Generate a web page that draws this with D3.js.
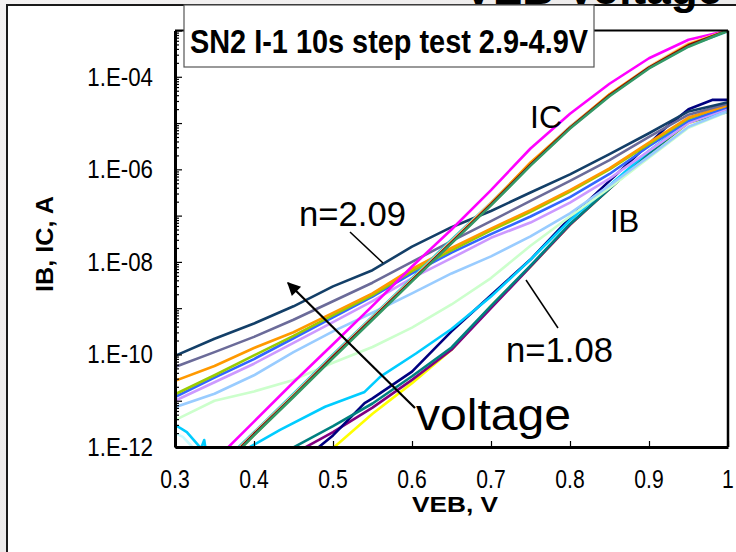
<!DOCTYPE html>
<html><head><meta charset="utf-8">
<script src="https://cdn.jsdelivr.net/npm/d3@7"></script>
<style>
body{margin:0;background:#fff}
svg{display:block}
text{font-family:"Liberation Sans",Arial,sans-serif;fill:#000}
</style>
</head><body>
<svg id="c" width="736" height="552"></svg>
<script>
// ---------------- data (VEB in V, currents as log10(A)) ----------------
const vGrid = [0.30,0.35,0.40,0.45,0.50,0.55,0.60,0.65,0.70,0.75,0.80,0.85,0.90,0.95,1.00];

// IB, upper family (read on vGrid)
const ibNavyTop   = [-10.03,-9.66,-9.33,-8.96,-8.53,-8.18,-7.67,-7.25,-6.90,-6.50,-6.11,-5.67,-5.22,-4.75,-4.55];
const ibSlate     = [-10.27,-9.95,-9.62,-9.25,-8.85,-8.45,-8.00,-7.55,-7.12,-6.68,-6.25,-5.80,-5.30,-4.82,-4.58];
const ibOrange    = [-10.57,-10.25,-9.86,-9.52,-9.10,-8.68,-8.15,-7.70,-7.28,-6.88,-6.45,-5.98,-5.42,-4.88,-4.62];
const ibLime      = [-10.86,-10.45,-10.02,-9.60,-9.15,-8.72,-8.20,-7.75,-7.32,-6.92,-6.48,-6.00,-5.45,-4.90,-4.60];
const ibBlue      = [-10.92,-10.50,-10.10,-9.65,-9.20,-8.75,-8.25,-7.80,-7.40,-7.02,-6.60,-6.10,-5.50,-4.95,-4.65];
const ibLavender  = [-11.00,-10.60,-10.20,-9.75,-9.30,-8.85,-8.35,-7.92,-7.48,-7.15,-6.72,-6.20,-5.60,-5.00,-4.68];
const ibLightBlue = [-11.14,-10.85,-10.45,-9.95,-9.50,-9.10,-8.68,-8.25,-7.88,-7.45,-6.95,-6.35,-5.72,-5.08,-4.74];
const ibPaleGreen = [-11.42,-11.00,-10.80,-10.55,-10.18,-9.84,-9.42,-8.92,-8.35,-7.65,-7.02,-6.40,-5.75,-5.10,-4.75];

// IB, lower family (own voltage points)
const skyV   = [0.30,0.315,0.333,0.337,0.341,0.36,0.38,0.395,0.433,0.49,0.54,0.56,0.605,0.65,0.70,0.75,0.80,0.85,0.90,0.95,1.00];
const skyI   = [-11.52,-11.68,-12.03,-11.85,-12.3,-12.4,-12.4,-12.0,-11.63,-11.13,-10.81,-10.48,-9.98,-9.45,-8.75,-7.95,-7.10,-6.35,-5.60,-4.96,-4.74];
const cyanV  = [0.30,0.31,0.322,0.33];
const cyanI  = [-11.70,-11.78,-12.0,-12.4];
const tealV  = [0.44,0.50,0.55,0.60,0.65,0.70,0.75,0.80,0.85,0.90,0.95,1.00];
const tealI  = [-12.1,-11.55,-11.06,-10.47,-9.85,-8.95,-8.08,-7.18,-6.42,-5.66,-4.98,-4.76];
const purpV  = [0.455,0.50,0.55,0.60,0.65,0.70,0.75,0.80,0.85,0.90,0.95,1.00];
const purpI  = [-12.1,-11.68,-11.15,-10.55,-9.90,-9.00,-8.10,-7.20,-6.42,-5.64,-4.97,-4.72];
const navyV  = [0.475,0.50,0.54,0.55,0.60,0.65,0.70,0.75,0.80,0.85,0.90,0.92,0.95,0.98,1.00];
const navyI  = [-12.1,-11.75,-11.05,-10.95,-10.37,-9.50,-8.72,-7.95,-7.05,-6.25,-5.45,-5.12,-4.70,-4.50,-4.50];
const yellV  = [0.495,0.55,0.60,0.65,0.70,0.75,0.80,0.85,0.90,0.95,1.00];
const yellI  = [-12.1,-11.28,-10.62,-9.90,-8.95,-8.10,-7.20,-6.42,-5.66,-5.00,-4.75];

// IC family (read on vGrid)
const icMagenta = [-13.2,-12.3,-11.45,-10.60,-9.78,-8.95,-8.10,-7.30,-6.45,-5.55,-4.80,-4.15,-3.60,-3.20,-3.00];
const icCyan    = [-13.3,-12.5,-11.68,-10.85,-10.00,-9.18,-8.35,-7.52,-6.72,-5.88,-5.08,-4.40,-3.80,-3.33,-3.02];
const icTan     = [-13.4,-12.55,-11.70,-10.88,-10.03,-9.20,-8.38,-7.55,-6.72,-5.88,-5.08,-4.38,-3.78,-3.28,-3.00];
const icOrange  = [-13.45,-12.6,-11.74,-10.90,-10.06,-9.23,-8.40,-7.58,-6.74,-5.85,-5.10,-4.38,-3.80,-3.30,-3.00];
const icDarkRed = [-13.45,-12.58,-11.72,-10.90,-10.05,-9.22,-8.40,-7.58,-6.76,-5.90,-5.10,-4.40,-3.80,-3.32,-3.00];
const icGreen   = [-13.5,-12.6,-11.75,-10.92,-10.08,-9.25,-8.42,-7.60,-6.78,-5.92,-5.12,-4.42,-3.82,-3.35,-3.00];

const xTickValues = [0.3,0.4,0.5,0.6,0.7,0.8,0.9,1.0];
const xTickLabels = ["0.3","0.4","0.5","0.6","0.7","0.8","0.9","1"];
const yTickValues = [1e-12,1e-10,1e-8,1e-6,1e-4];
const yTickLabels = ["1.E-12","1.E-10","1.E-08","1.E-06","1.E-04"];

// ---------------- drawing ----------------
const svg = d3.select("#c");
const W = 736, H = 552;
const L = 175, R = 728, T = 30.5, B = 447;

// slide background
const defs = svg.append("defs");
const grad = defs.append("linearGradient").attr("id","bg")
  .attr("x1","0").attr("y1","0").attr("x2","1").attr("y2","1");
grad.append("stop").attr("offset","0").attr("stop-color","#f4f2f2");
grad.append("stop").attr("offset","1").attr("stop-color","#e6e4e4");
svg.append("rect").attr("width",W).attr("height",H).attr("fill","url(#bg)");
svg.append("rect").attr("x",7).attr("y",5).attr("width",W).attr("height",H)
  .attr("fill","#fff").attr("stroke","#1a1a1a").attr("stroke-width",2);

// slide title (cut by the top edge, as in the reference)
svg.append("text").attr("x",722).attr("y",4).attr("text-anchor","end")
  .attr("font-size",44).attr("font-weight","bold").text("VEB Voltage");

const x = d3.scaleLinear().domain([0.3,1.0]).range([L,R]);
const y = d3.scaleLog().domain([1e-12,1e-3]).range([B,T]);

defs.append("clipPath").attr("id","clip")
  .append("rect").attr("x",L).attr("y",T).attr("width",R-L).attr("height",B-T);

const line = d3.line().x(d=>x(d[0])).y(d=>y(Math.pow(10,d[1])));
const plot = svg.append("g").attr("clip-path","url(#clip)");

function series(vs, is, color){
  plot.append("path").datum(d3.zip(vs,is)).attr("d",line)
    .attr("fill","none").attr("stroke",color).attr("stroke-width",2.6)
    .attr("stroke-linejoin","round").attr("stroke-linecap","round");
}
// lower IB family
series(cyanV, cyanI, "#c8fbff");
series(yellV, yellI, "#ffff00");
series(purpV, purpI, "#800080");
series(navyV, navyI, "#000080");
series(tealV, tealI, "#008080");
series(skyV, skyI, "#00ccff");
// upper IB family
series(vGrid, ibPaleGreen, "#ccffcc");
series(vGrid, ibLightBlue, "#99ccff");
series(vGrid, ibLavender, "#cc99ff");
series(vGrid, ibBlue, "#3366ff");
series(vGrid, ibLime, "#99cc00");
series(vGrid, ibOrange, "#ff9900");
series(vGrid, ibSlate, "#6b6b99");
series(vGrid, ibNavyTop, "#133f68");
// IC family
series(vGrid, icMagenta, "#ff00ff");
series(vGrid, icCyan, "#33cccc");
series(vGrid, icTan, "#ffcc99");
series(vGrid, icOrange, "#ff9900");
series(vGrid, icDarkRed, "#800000");
series(vGrid, icGreen, "#339966");

// frame
svg.append("line").attr("x1",L).attr("x2",R).attr("y1",T).attr("y2",T).attr("stroke","#000").attr("stroke-width",2);
svg.append("line").attr("x1",R).attr("x2",R).attr("y1",T).attr("y2",B).attr("stroke","#000").attr("stroke-width",2.5);

// axes (ticks point inward)
const decades = d3.range(-12,-2).map(e=>Math.pow(10,e));
const minors = [];
d3.range(-12,-3).forEach(e=>{ for(let k=2;k<=9;k++) minors.push(k*Math.pow(10,e)); });
const yMaj = svg.append("g").attr("transform",`translate(${L},0)`)
  .call(d3.axisLeft(y).tickValues(decades).tickSizeInner(-7).tickSizeOuter(0).tickFormat(""));
const yMin = svg.append("g").attr("transform",`translate(${L},0)`)
  .call(d3.axisLeft(y).tickValues(minors).tickSizeInner(-4).tickSizeOuter(0).tickFormat(""));
yMin.select(".domain").remove();
const xAx = svg.append("g").attr("transform",`translate(0,${B})`)
  .call(d3.axisBottom(x).tickValues(xTickValues).tickSizeInner(-6).tickSizeOuter(0).tickFormat(""));
[yMaj,yMin,xAx].forEach(g=>{
  g.selectAll(".tick line").attr("stroke","#000").attr("stroke-width",1.2);
});
yMaj.select(".domain").attr("stroke","#000").attr("stroke-width",3);
xAx.select(".domain").attr("stroke","#000").attr("stroke-width",3);

// tick labels (slightly tall, narrow face as in the slide)
yTickValues.forEach((v,i)=>{
  svg.append("text").attr("transform",`translate(153,${y(v)+9}) scale(0.97,1.14)`)
    .attr("text-anchor","end").attr("font-size",23).text(yTickLabels[i]);
});
xTickValues.forEach((v,i)=>{
  svg.append("text").attr("transform",`translate(${x(v)},488) scale(0.92,1.14)`)
    .attr("text-anchor","middle").attr("font-size",23).text(xTickLabels[i]);
});

// axis titles
svg.append("text").attr("transform","translate(455,512) scale(1,1.08)")
  .attr("text-anchor","middle").attr("font-size",20).attr("font-weight","bold")
  .attr("textLength",86).attr("lengthAdjust","spacingAndGlyphs").text("VEB, V");
svg.append("text").attr("transform","translate(53,244) rotate(-90) scale(1,1.1)")
  .attr("text-anchor","middle").attr("font-size",21).attr("font-weight","bold")
  .attr("textLength",96).attr("lengthAdjust","spacingAndGlyphs").text("IB, IC, A");

// chart title box
svg.append("rect").attr("x",184).attr("y",5).attr("width",410).attr("height",62)
  .attr("fill","#fff").attr("stroke","#555").attr("stroke-width",1.2);
svg.append("text").attr("transform","translate(190,53) scale(1,1.1)").attr("font-size",30).attr("font-weight","bold")
  .attr("textLength",398).attr("lengthAdjust","spacingAndGlyphs").text("SN2 I-1 10s step test 2.9-4.9V");

// annotations
svg.append("text").attr("x",530).attr("y",128).attr("font-size",32).text("IC");
svg.append("text").attr("x",610).attr("y",232).attr("font-size",31).text("IB");
svg.append("text").attr("x",299).attr("y",226).attr("font-size",35)
  .attr("textLength",107).attr("lengthAdjust","spacingAndGlyphs").text("n=2.09");
svg.append("text").attr("x",506).attr("y",362).attr("font-size",35)
  .attr("textLength",107).attr("lengthAdjust","spacingAndGlyphs").text("n=1.08");
svg.append("text").attr("x",416).attr("y",430).attr("font-size",44)
  .attr("textLength",155).attr("lengthAdjust","spacingAndGlyphs").text("voltage");
svg.append("line").attr("x1",350).attr("y1",232).attr("x2",383).attr("y2",263).attr("stroke","#000").attr("stroke-width",1.5);
svg.append("line").attr("x1",526).attr("y1",280).attr("x2",558).attr("y2",328).attr("stroke","#000").attr("stroke-width",1.5);

// arrow
defs.append("marker").attr("id","ah").attr("viewBox","0 0 10 10")
  .attr("refX",9).attr("refY",5).attr("markerWidth",7).attr("markerHeight",6)
  .attr("markerUnits","strokeWidth").attr("orient","auto")
  .append("path").attr("d","M0,0L10,5L0,10z").attr("fill","#000");
svg.append("line").attr("x1",415).attr("y1",408).attr("x2",288).attr("y2",283)
  .attr("stroke","#000").attr("stroke-width",2.2).attr("marker-end","url(#ah)");
</script>
</body></html>
